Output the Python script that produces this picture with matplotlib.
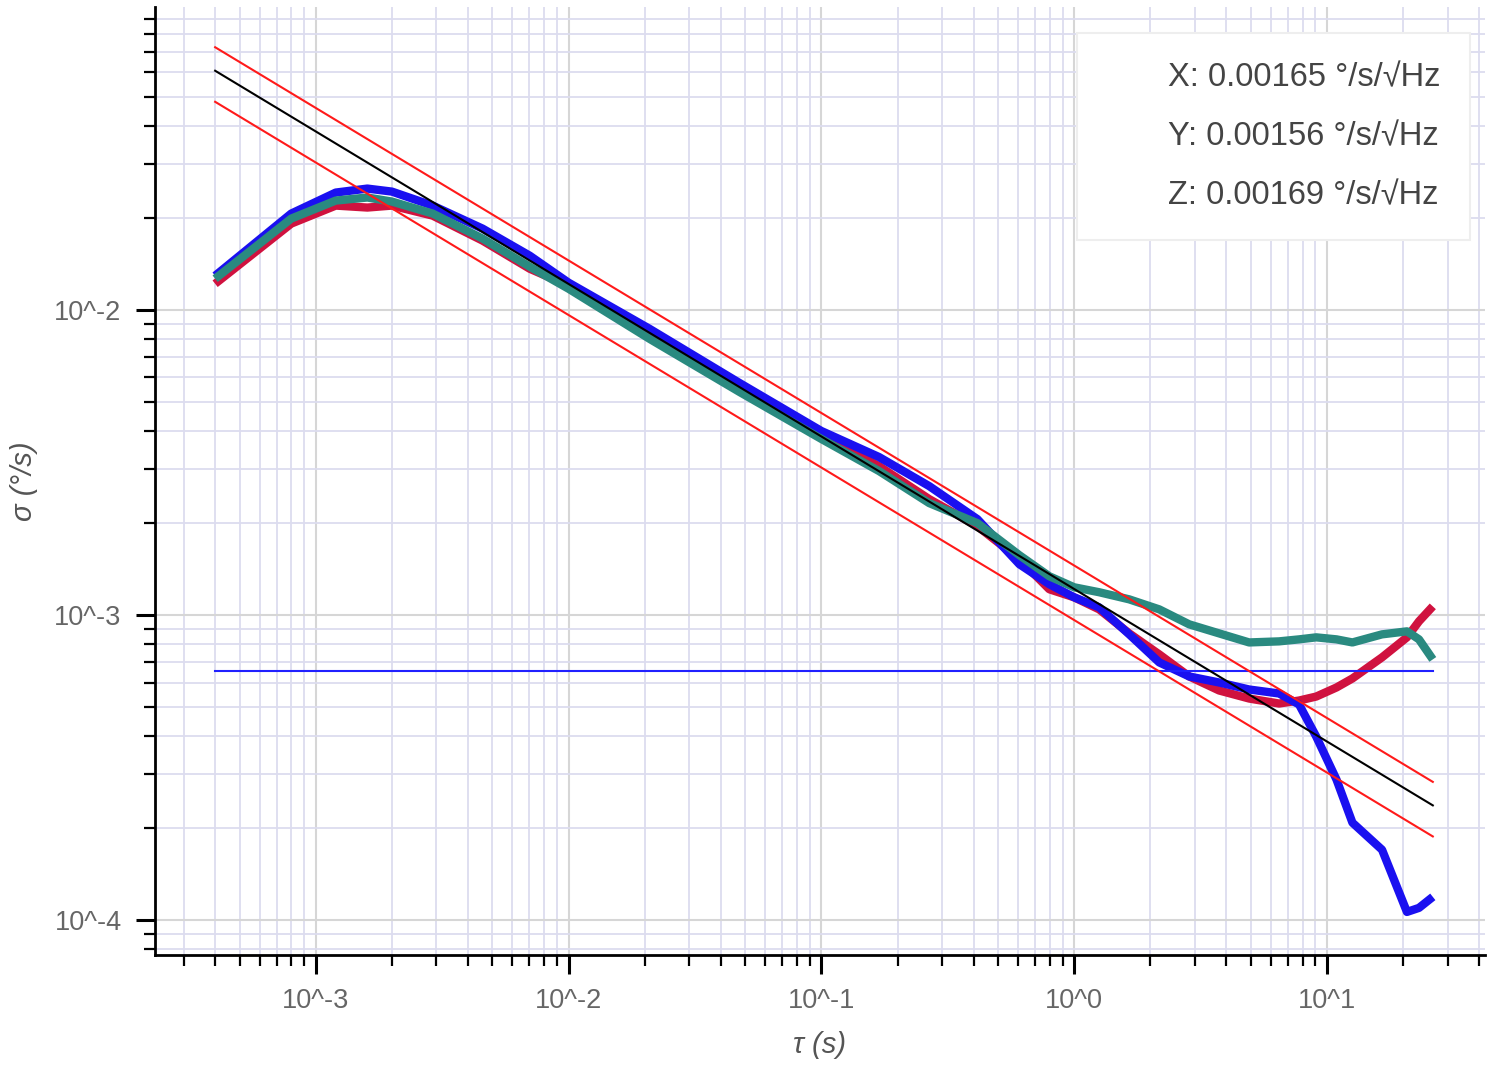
import numpy as np
import matplotlib
matplotlib.use("Agg")
import matplotlib.pyplot as plt
from matplotlib.lines import Line2D
from matplotlib.ticker import LogLocator, FixedLocator, NullFormatter

plt.rcParams['font.family'] = ['Liberation Sans', 'DejaVu Sans']

# ---------------- data ----------------
tau = [4.0e-4, 8.0e-4, 1.2e-3, 1.6e-3, 2.0e-3, 2.9e-3, 4.57e-3, 7.02e-3,
       0.0100, 0.0209, 0.0474, 0.100, 0.169, 0.267, 0.414, 0.607, 0.797, 1.00,
       1.255, 1.65, 2.17, 2.85, 3.74, 4.92, 6.46, 7.75, 9.06, 10.9, 12.6, 16.5,
       20.7, 23.1, 26.2]

sigma_x = [0.01217, 0.01916, 0.02195, 0.02163, 0.02195, 0.02035, 0.01685, 0.01363,
           0.01199, 0.008214, 0.005501, 0.003857, 0.003073, 0.002395, 0.001953,
           0.001521, 0.001213, 0.001141, 0.001042, 0.0008694, 0.0007418, 0.0006281,
           0.0005650, 0.0005316, 0.0005120, 0.0005237, 0.0005397, 0.0005780,
           0.0006187, 0.0007254, 0.0008437, 0.0009521, 0.001066]

sigma_y = [0.01293, 0.02067, 0.02422, 0.02496, 0.02440, 0.02195, 0.01845, 0.01504,
           0.01227, 0.008662, 0.005757, 0.004005, 0.003291, 0.002642, 0.002059,
           0.001465, 0.001260, 0.001141, 0.001058, 0.0008630, 0.0006982, 0.0006281,
           0.0006002, 0.0005692, 0.0005523, 0.0005083, 0.0003990, 0.0002883,
           0.0002083, 0.0001698, 0.0001062, 0.0001095, 0.0001190]

sigma_z = [0.01264, 0.01990, 0.02280, 0.02333, 0.02263, 0.02067, 0.01711, 0.01384,
           0.01172, 0.008031, 0.005380, 0.003771, 0.002960, 0.002324, 0.001998,
           0.001568, 0.001338, 0.001231, 0.001186, 0.001124, 0.001042, 0.0009307,
           0.0008694, 0.0008119, 0.0008185, 0.0008310, 0.0008437, 0.0008310,
           0.0008119, 0.0008630, 0.0008828, 0.0008310, 0.0007143]

arw_coeff = 0.001215          # sigma at tau = 1 s of the -1/2 slope fit line
arw_upper_factor = 1.194
arw_lower_factor = 0.791
bias_level = 0.0006523        # horizontal reference line

legend_labels = ["X: 0.00165 °/s/√Hz", "Y: 0.00156 °/s/√Hz", "Z: 0.00169 °/s/√Hz"]

x_major_ticks = [1e-3, 1e-2, 1e-1, 1e0, 1e1]
x_tick_labels = ["10^-3", "10^-2", "10^-1", "10^0", "10^1"]
y_major_ticks = [1e-4, 1e-3, 1e-2]
y_tick_labels = ["10^-4", "10^-3", "10^-2"]

# ---------------- figure ----------------
fig = plt.figure(figsize=(14.87, 10.65), dpi=100)
ax = fig.add_axes([0.1042, 0.1033, 0.8945, 0.8900])

ax.set_xscale('log')
ax.set_yscale('log')
ax.set_xlim(10 ** -3.636, 10 ** 1.625)
ax.set_ylim(10 ** -4.115, 10 ** -1.008)

tau_arr = np.array(tau)
tau_line = np.array([tau[0], tau[-1]])
fit = arw_coeff / np.sqrt(tau_line)

common = dict(lw=6.0, solid_capstyle='butt', solid_joinstyle='round')
ax.plot(tau_arr, sigma_x, color='#d0123f', zorder=3, **common)
ax.plot(tau_arr, sigma_y, color='#1a10f0', zorder=4, **common)
ax.plot(tau_arr, sigma_z, color='#2a8a80', zorder=5, **common)

ax.plot(tau_line, fit, color='black', lw=1.5, zorder=7)
ax.plot(tau_line, fit * arw_upper_factor, color='#ff1a1a', lw=1.5, zorder=7)
ax.plot(tau_line, fit * arw_lower_factor, color='#ff1a1a', lw=1.5, zorder=7)
ax.plot(tau_line, [bias_level, bias_level], color='#2020ff', lw=1.5, zorder=6)

# grid
ax.grid(True, which='minor', color='#dcdcef', lw=1.3, zorder=0)
ax.grid(True, which='major', color='#d6d6d6', lw=1.5, zorder=0)
ax.set_axisbelow(True)

# ticks
ax.xaxis.set_major_locator(FixedLocator(x_major_ticks))
ax.yaxis.set_major_locator(FixedLocator(y_major_ticks))
ax.set_xticklabels(x_tick_labels)
ax.set_yticklabels(y_tick_labels)
ax.xaxis.set_minor_locator(LogLocator(base=10, subs=np.arange(2, 10), numticks=20))
ax.yaxis.set_minor_locator(LogLocator(base=10, subs=np.arange(2, 10), numticks=20))
ax.xaxis.set_minor_formatter(NullFormatter())
ax.yaxis.set_minor_formatter(NullFormatter())

ax.tick_params(which='major', direction='out', length=14, width=2.2, color='black',
               labelsize=19.5, labelcolor='#666666', pad=10)
ax.tick_params(which='minor', direction='out', length=8, width=1.6, color='black')

for s in ['top', 'right']:
    ax.spines[s].set_visible(False)
for s in ['left', 'bottom']:
    ax.spines[s].set_linewidth(2.0)
    ax.spines[s].set_color('black')

ax.set_xlabel('τ (s)', fontsize=21, color='#555555', style='italic', labelpad=12)
ax.set_ylabel('σ (°/s)', fontsize=21, color='#555555', style='italic', labelpad=12)

handles = [Line2D([], [], color='none') for _ in legend_labels]
leg = ax.legend(handles, legend_labels, loc='upper right',
                bbox_to_anchor=(0.9887, 0.9726), borderaxespad=0.0, fontsize=23.5,
                handlelength=1.9, handletextpad=0.0, borderpad=0.9,
                labelspacing=0.85, frameon=True, fancybox=False,
                framealpha=1.0, edgecolor='#eeeeee')
for t in leg.get_texts():
    t.set_color('#444444')
leg.get_frame().set_linewidth(1.5)
leg.set_zorder(10)

fig.savefig('out.png', dpi=100, facecolor='white')
